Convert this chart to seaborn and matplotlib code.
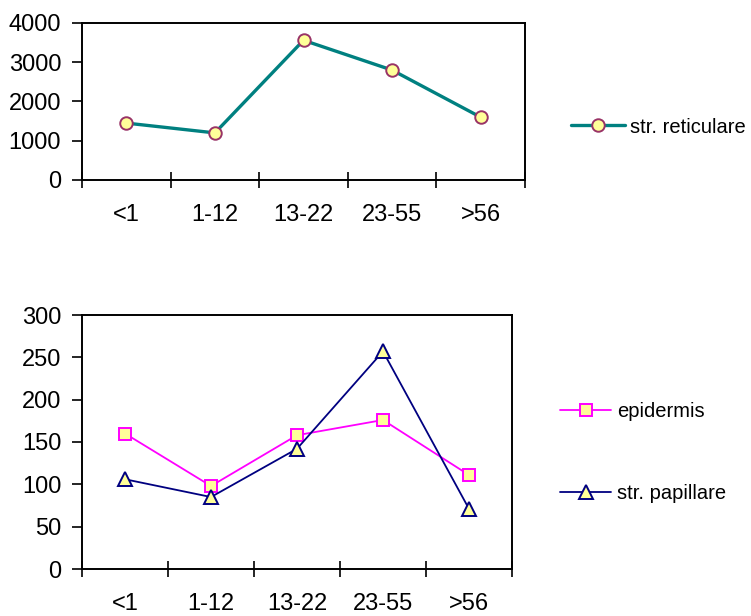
import matplotlib
matplotlib.use("Agg")
import matplotlib.pyplot as plt
import seaborn as sns
import pandas as pd
from matplotlib.ticker import FixedLocator

categories = ["<1", "1-12", "13-22", "23-55", ">56"]
reticulare = [1450, 1200, 3560, 2800, 1600]
epidermis = [160, 98, 158, 176, 111]
papillare = [106, 85, 142, 257, 71]

top_yticks = [0, 1000, 2000, 3000, 4000]
bottom_yticks = [0, 50, 100, 150, 200, 250, 300]

sns.set_style("white")
plt.rcParams["font.family"] = ["Liberation Sans", "DejaVu Sans"]
plt.rcParams["text.color"] = "black"
plt.rcParams["xtick.color"] = "black"
plt.rcParams["ytick.color"] = "black"
plt.rcParams["axes.labelcolor"] = "black"

W, H = 751, 616
fig = plt.figure(figsize=(W / 100, H / 100), dpi=100)

def axes_px(l, t, r, b):
    return fig.add_axes([l / W, 1 - b / H, (r - l) / W, (b - t) / H])

ax1 = axes_px(82, 23, 525, 180)
ax2 = axes_px(82, 315, 512, 569)

df_top = pd.DataFrame({"cat": categories, "val": reticulare})
df_bot = pd.DataFrame({"cat": categories, "epi": epidermis, "pap": papillare})

sns.lineplot(data=df_top, x="cat", y="val", ax=ax1, color="#008080", linewidth=2.4,
             marker="o", markersize=9, markerfacecolor="#FFFF99",
             markeredgecolor="#993366", markeredgewidth=1.4, label="str. reticulare",
             legend=False)
sns.lineplot(data=df_bot, x="cat", y="epi", ax=ax2, color="#FF00FF", linewidth=1.3,
             marker="s", markersize=8.5, markerfacecolor="#FFFF99",
             markeredgecolor="#FF00FF", markeredgewidth=1.4, label="epidermis",
             legend=False)
sns.lineplot(data=df_bot, x="cat", y="pap", ax=ax2, color="#000080", linewidth=1.3,
             marker="^", markersize=9.5, markerfacecolor="#FFFF99",
             markeredgecolor="#000080", markeredgewidth=1.4, label="str. papillare",
             legend=False)

for ax, yt in ((ax1, top_yticks), (ax2, bottom_yticks)):
    ax.set_xlim(-0.5, len(categories) - 0.5)
    ax.set_ylim(yt[0], yt[-1])
    ax.set_yticks(yt)
    ax.set_yticklabels([str(v) for v in yt])
    ax.set_xticks(range(len(categories)))
    ax.set_xticklabels(categories)
    ax.xaxis.set_minor_locator(FixedLocator([i - 0.5 for i in range(len(categories) + 1)]))
    ax.tick_params(axis="x", which="major", length=0, pad=17.5, labelsize=17,
                   labelcolor="black")
    ax.tick_params(axis="x", which="minor", length=12, width=1.2, direction="inout",
                   bottom=True, color="black")
    ax.tick_params(axis="y", which="major", length=7, width=1.2, direction="out",
                   left=True, pad=8, labelsize=17, color="black", labelcolor="black")
    ax.set_xlabel("")
    ax.set_ylabel("")
    for s in ax.spines.values():
        s.set_visible(True)
        s.set_color("black")
        s.set_linewidth(1.4)
    ax.grid(False)

fig.legend(handles=ax1.get_lines()[:1], labels=["str. reticulare"],
           loc="center left", bbox_to_anchor=(571 / W, 1 - 127 / H),
           frameon=False, fontsize=14.5, handlelength=2.7, handletextpad=0.25,
           borderpad=0, borderaxespad=0, labelcolor="black")
h2 = ax2.get_lines()
fig.legend(handles=h2[:2], labels=["epidermis", "str. papillare"],
           loc="center left", bbox_to_anchor=(560 / W, 1 - 452.5 / H),
           frameon=False, fontsize=14.5, handlelength=2.55, handletextpad=0.3,
           borderpad=0, borderaxespad=0, labelspacing=3.15, labelcolor="black")

fig.savefig("out.png", dpi=100)
